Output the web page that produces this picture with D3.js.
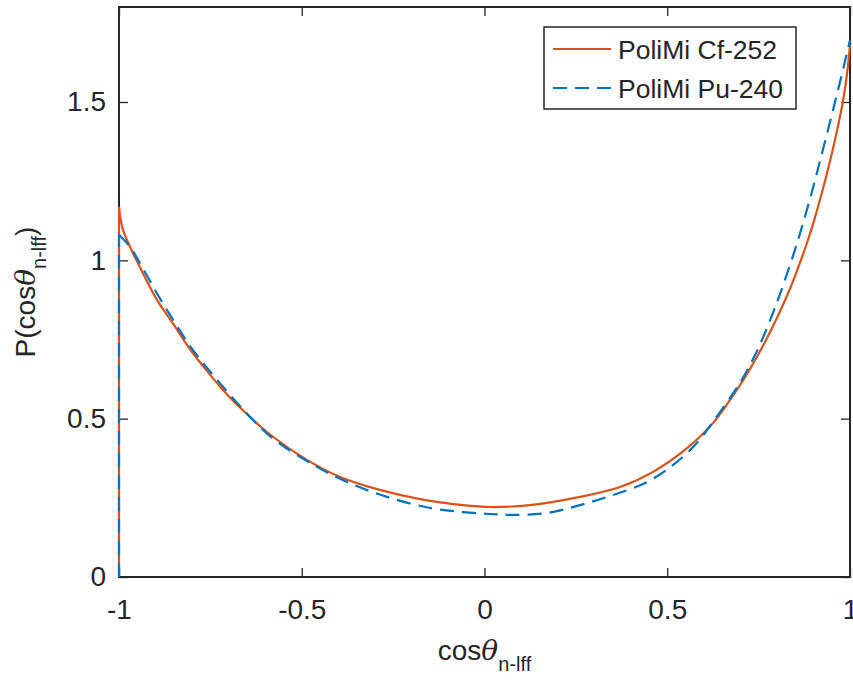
<!DOCTYPE html>
<html>
<head>
<meta charset="utf-8">
<script src="https://cdn.jsdelivr.net/npm/d3@7"></script>
<style>
  body { margin: 0; background: #fff; }
  svg text { font-family: "Liberation Sans", Arial, sans-serif; fill: #262626; }
</style>
</head>
<body>
<div id="chart"></div>
<script>
const width = 853, height = 682;
const margin = { top: 7, right: 3, bottom: 105, left: 119 };

// values
const cfCos = [-1, -1, -0.989, -0.943, -0.896, -0.852, -0.806, -0.759, -0.715, -0.669, -0.587, -0.486, -0.395, -0.286, -0.176, -0.059, 0.015, 0.124, 0.261, 0.371, 0.461, 0.554, 0.625, 0.699, 0.735, 0.762, 0.80, 0.828, 0.85, 0.882, 0.90, 0.926, 0.95, 0.964, 0.981, 0.992, 1.0];
const cfP = [0, 1.169, 1.096, 0.979, 0.875, 0.80, 0.72, 0.65, 0.59, 0.535, 0.45, 0.370, 0.316, 0.275, 0.246, 0.227, 0.221, 0.227, 0.253, 0.284, 0.332, 0.407, 0.486, 0.606, 0.674, 0.730, 0.818, 0.889, 0.952, 1.054, 1.119, 1.226, 1.336, 1.407, 1.504, 1.59, 1.68];

const puCos = [-1, -1, -0.970, -0.943, -0.897, -0.852, -0.806, -0.759, -0.715, -0.669, -0.587, -0.477, -0.376, -0.267, -0.149, -0.059, 0.015, 0.078, 0.171, 0.261, 0.352, 0.445, 0.516, 0.581, 0.625, 0.699, 0.735, 0.754, 0.789, 0.808, 0.844, 0.863, 0.891, 0.910, 0.926, 0.953, 0.964, 0.981, 1.0];
const puP = [0, 1.081, 1.043, 0.992, 0.897, 0.812, 0.73, 0.66, 0.60, 0.54, 0.445, 0.360, 0.300, 0.253, 0.218, 0.205, 0.199, 0.196, 0.202, 0.227, 0.259, 0.300, 0.354, 0.423, 0.490, 0.613, 0.689, 0.735, 0.833, 0.892, 1.014, 1.084, 1.196, 1.278, 1.350, 1.472, 1.523, 1.603, 1.696];

const seriesNames = ["PoliMi Cf-252", "PoliMi Pu-240"];
const xTicks = [-1, -0.5, 0, 0.5, 1];
const yTicks = [0, 0.5, 1, 1.5];

const series = [
  { name: seriesNames[0], data: cfCos.map((c, i) => [c, cfP[i]]), color: "#D95319", dash: null },
  { name: seriesNames[1], data: puCos.map((c, i) => [c, puP[i]]), color: "#0072BD", dash: "14,8" }
];

const svg = d3.select("#chart").append("svg")
  .attr("width", width)
  .attr("height", height);

const innerWidth = width - margin.left - margin.right;
const innerHeight = height - margin.top - margin.bottom;

const g = svg.append("g").attr("transform", `translate(${margin.left},${margin.top})`);

const x = d3.scaleLinear().domain([-1, 1]).range([0, innerWidth]);
const y = d3.scaleLinear().domain([0, 1.8]).range([innerHeight, 0]);

const smooth = d3.line()
  .x(d => x(d[0]))
  .y(d => y(d[1]))
  .curve(d3.curveCatmullRom.alpha(0.5));

const straight = d3.line()
  .x(d => x(d[0]))
  .y(d => y(d[1]));

const tickLen = 9;
const fmt = d => d === 0 ? "0" : String(d);

// axes, MATLAB style: ticks inside, box on
function styleAxis(sel) {
  sel.select(".domain").remove();
  sel.selectAll(".tick line").attr("stroke", "#262626").attr("stroke-width", 1.3);
  sel.selectAll(".tick text").attr("font-size", "28px").attr("fill", "#262626")
    .attr("font-family", "Liberation Sans, Arial, sans-serif");
}

g.append("g")
  .attr("transform", `translate(0,${innerHeight})`)
  .call(d3.axisBottom(x).tickValues(xTicks).tickFormat(fmt).tickSize(-tickLen).tickPadding(22))
  .call(styleAxis);

g.append("g")
  .call(d3.axisTop(x).tickValues(xTicks).tickSize(-tickLen))
  .call(styleAxis)
  .call(a => a.selectAll(".tick text").remove());

g.append("g")
  .call(d3.axisLeft(y).tickValues(yTicks).tickFormat(fmt).tickSize(-tickLen).tickPadding(13))
  .call(styleAxis);

g.append("g")
  .attr("transform", `translate(${innerWidth},0)`)
  .call(d3.axisRight(y).tickValues(yTicks).tickSize(-tickLen))
  .call(styleAxis)
  .call(a => a.selectAll(".tick text").remove());

// box
g.append("rect")
  .attr("width", innerWidth)
  .attr("height", innerHeight)
  .attr("fill", "none")
  .attr("stroke", "#262626")
  .attr("stroke-width", 2);

// curves: the jump at cos = -1 is a straight edge, the rest is smooth
series.forEach(s => {
  g.append("path")
    .datum(s.data.slice(0, 2))
    .attr("fill", "none")
    .attr("stroke", s.color)
    .attr("stroke-width", 2.2)
    .attr("stroke-dasharray", s.dash)
    .attr("d", straight);
  g.append("path")
    .datum(s.data.slice(1))
    .attr("fill", "none")
    .attr("stroke", s.color)
    .attr("stroke-width", 2.2)
    .attr("stroke-dasharray", s.dash)
    .attr("d", smooth);
});

// legend
const lg = svg.append("g").attr("transform", "translate(544,27)");
lg.append("rect")
  .attr("width", 252)
  .attr("height", 82)
  .attr("fill", "#fff")
  .attr("stroke", "#262626")
  .attr("stroke-width", 1.5);

series.forEach((s, i) => {
  const cy = 22 + i * 39;
  lg.append("line")
    .attr("x1", 9).attr("x2", 67)
    .attr("y1", cy).attr("y2", cy)
    .attr("stroke", s.color)
    .attr("stroke-width", 2.2)
    .attr("stroke-dasharray", s.dash);
  lg.append("text")
    .attr("x", 74)
    .attr("y", cy + 10)
    .attr("font-size", "26.5px")
    .attr("fill", "#000")
    .text(s.name);
});

// axis labels
const xl = svg.append("text")
  .attr("x", margin.left + innerWidth / 2)
  .attr("y", 660)
  .attr("text-anchor", "middle")
  .attr("font-size", "28px");
xl.append("tspan").text("cos");
xl.append("tspan").attr("font-family", "DejaVu Serif, serif").attr("font-style", "italic").text("θ");
xl.append("tspan").attr("font-size", "20px").attr("dy", 11).text("n-lff");

const yl = svg.append("text")
  .attr("transform", `translate(35, ${margin.top + innerHeight / 2}) rotate(-90)`)
  .attr("text-anchor", "middle")
  .attr("font-size", "28px");
yl.append("tspan").text("P(cos");
yl.append("tspan").attr("font-family", "DejaVu Serif, serif").attr("font-style", "italic").text("θ");
yl.append("tspan").attr("font-size", "20px").attr("dy", 11).text("n-lff");
yl.append("tspan").attr("dy", -11).text(")");
</script>
</body>
</html>
